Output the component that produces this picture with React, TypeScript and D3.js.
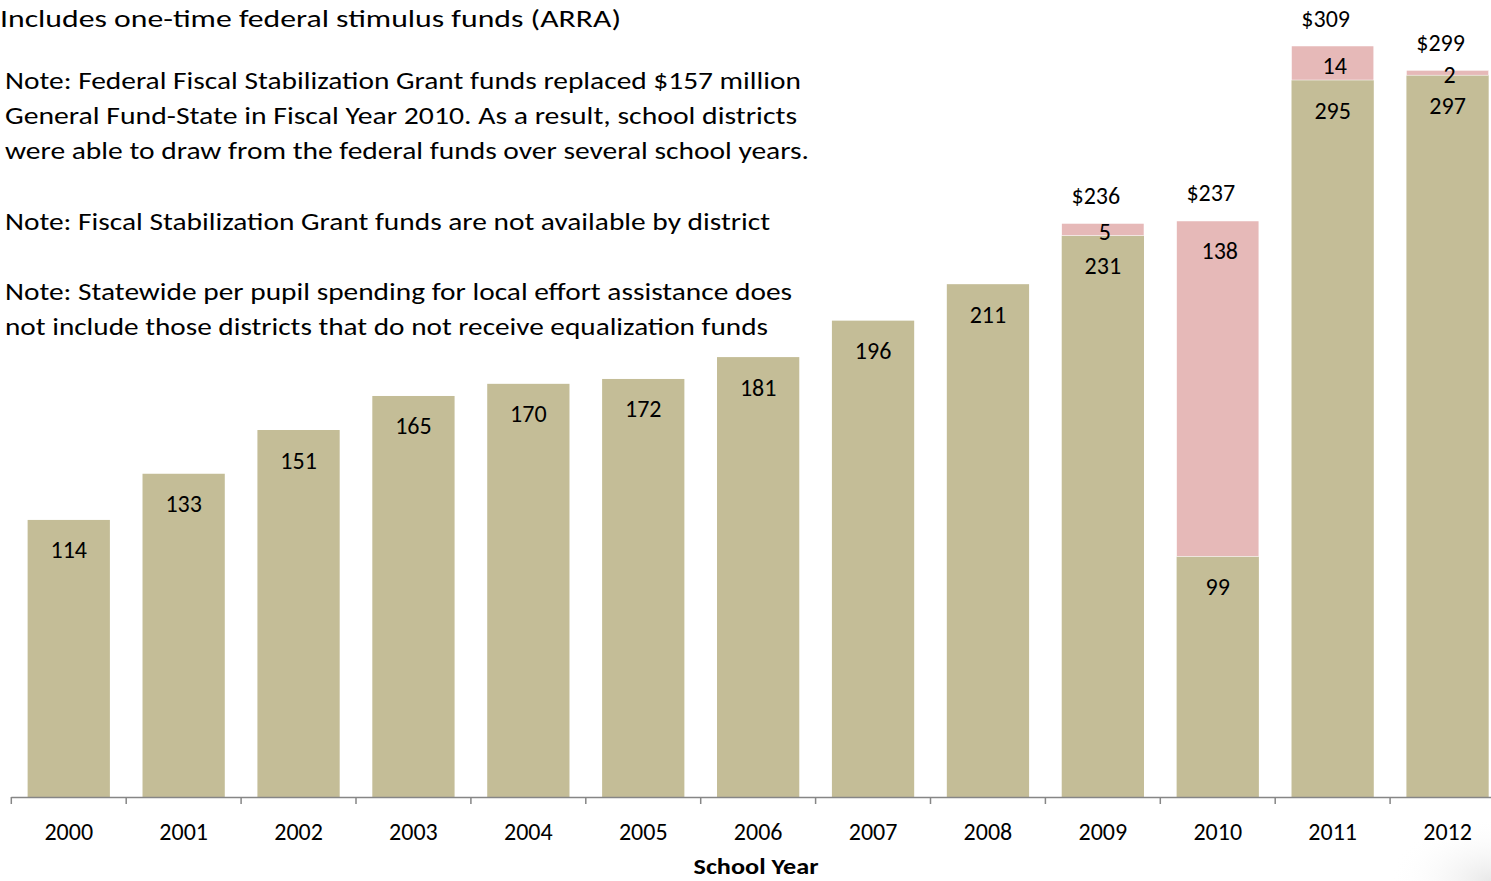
import React from "react";
import * as d3 from "d3";

const years = ["2000","2001","2002","2003","2004","2005","2006","2007","2008","2009","2010","2011","2012"];
const stateValues = [114,133,151,165,170,172,181,196,211,231,99,295,297];
const federalValues = [0,0,0,0,0,0,0,0,0,5,138,14,2];
const totalLabels = ["","","","","","","","","","$236","$237","$309","$299"];
const titleText = "Includes one-time federal stimulus funds (ARRA)";
const noteLines = [
  "Note: Federal Fiscal Stabilization Grant funds replaced $157 million",
  "General Fund-State in Fiscal Year 2010.  As a result, school districts",
  "were able to draw from the federal funds over several school years.",
];
const note2 = "Note: Fiscal Stabilization Grant funds are not available by district";
const note3Lines = [
  "Note: Statewide per pupil spending for local effort assistance does",
  "not include those districts that do not receive equalization funds",
];
const xAxisTitle = "School Year";

const W = 1491, H = 881;
const FONT = "Calibri, Carlito, Lato, sans-serif";
const TAN = "#C4BD97";
const PINK = "#E6B9B8";

export default function App() {
  const x = d3.scaleBand<string>().domain(years).range([11.3, 11.3 + 13 * 114.9]).paddingInner(0.284).paddingOuter(0.142);
  const y = d3.scaleLinear().domain([0, 309]).range([797, 46]);
  const bw = x.bandwidth();
  const labelSize = 24;
  const textSize = 25;

  return (
    <svg width={W} height={H} style={{ position: "absolute", left: 0, top: 0, background: "#fff" }} fontFamily={FONT}>
      <defs>
        <radialGradient id="shade" cx="1" cy="1" r="0.35">
          <stop offset="0" stopColor="#e8e8e8" />
          <stop offset="1" stopColor="#ffffff" stopOpacity="0" />
        </radialGradient>
      </defs>
      <rect x={1200} y={700} width={291} height={181} fill="url(#shade)" />
      {years.map((yr, i) => {
        const cx = (x(yr) as number) + bw / 2;
        const baseTop = y(stateValues[i]);
        const fedTop = y(stateValues[i] + federalValues[i]);
        const fedH = baseTop - fedTop;
        const fedLabelY = federalValues[i] > 0 ? Math.min(fedTop + 30, (fedTop + baseTop) / 2 + 2) : 0;
        return (
          <g key={yr}>
            <rect x={x(yr)} y={baseTop} width={bw} height={797 - baseTop} fill={TAN} />
            {federalValues[i] > 0 && (
              <rect x={x(yr)} y={fedTop} width={bw} height={fedH} fill={PINK} stroke="#fff" strokeWidth={0.5} />
            )}
            <text x={cx} y={baseTop + 30} textAnchor="middle" dominantBaseline="central" fontSize={labelSize} fill="#000">
              {stateValues[i]}
            </text>
            {federalValues[i] > 0 && (
              <text x={cx + 2} y={fedLabelY} textAnchor="middle" dominantBaseline="central" fontSize={labelSize} fill="#000">
                {federalValues[i]}
              </text>
            )}
            {totalLabels[i] && (
              <text x={cx - 7} y={fedTop - 28} textAnchor="middle" dominantBaseline="central" fontSize={labelSize} fill="#000">
                {totalLabels[i]}
              </text>
            )}
          </g>
        );
      })}
      {/* x axis */}
      <line x1={11.3} x2={W} y1={797.5} y2={797.5} stroke="#868686" strokeWidth={1.5} />
      {years.map((yr) => (
        <line key={"t" + yr} x1={(x(yr) as number) - (x.step() - bw) / 2} x2={(x(yr) as number) - (x.step() - bw) / 2} y1={797} y2={804} stroke="#868686" strokeWidth={1.5} />
      ))}
      {years.map((yr) => (
        <text key={"l" + yr} x={(x(yr) as number) + bw / 2} y={831} textAnchor="middle" dominantBaseline="central" fontSize={labelSize} fill="#000">
          {yr}
        </text>
      ))}
      <text x={756} y={866} textAnchor="middle" dominantBaseline="central" fontSize={23} fontWeight="bold" fill="#000" textLength={125} lengthAdjust="spacingAndGlyphs">
        {xAxisTitle}
      </text>
      {/* notes */}
      <text x={0} y={27} fontSize={textSize} fill="#000" textLength={621} lengthAdjust="spacingAndGlyphs">{titleText}</text>
      {noteLines.map((t, i) => (
        <text key={"n" + i} x={5} y={89 + i * 35} fontSize={textSize} fill="#000"
          textLength={[796, 792, 804][i]} lengthAdjust="spacingAndGlyphs">{t}</text>
      ))}
      <text x={5} y={230} fontSize={textSize} fill="#000" textLength={765} lengthAdjust="spacingAndGlyphs">{note2}</text>
      {note3Lines.map((t, i) => (
        <text key={"m" + i} x={5} y={300 + i * 35} fontSize={textSize} fill="#000"
          textLength={[787, 763][i]} lengthAdjust="spacingAndGlyphs">{t}</text>
      ))}
    </svg>
  );
}
